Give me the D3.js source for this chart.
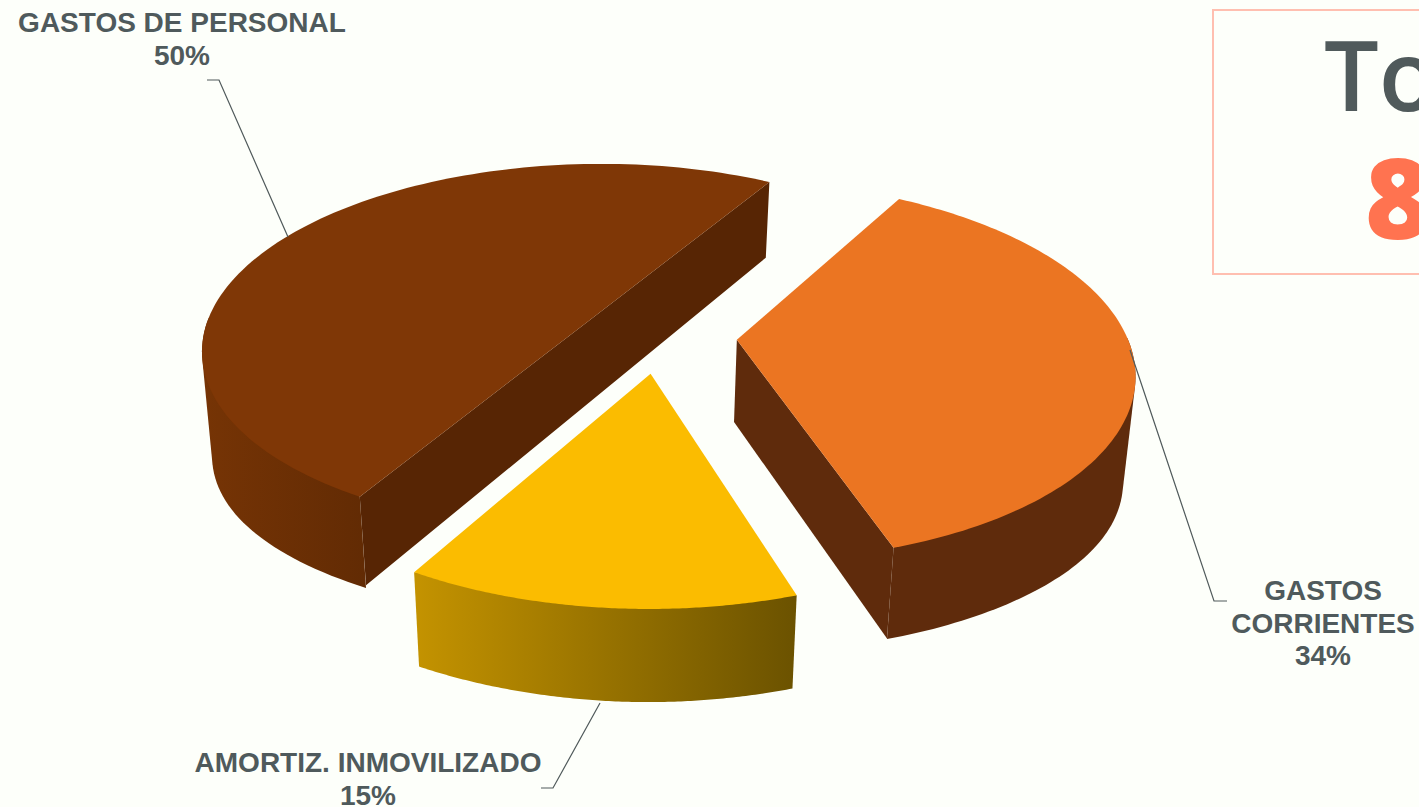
<!DOCTYPE html>
<html>
<head>
<meta charset="utf-8">
<script src="https://cdn.jsdelivr.net/npm/d3@7"></script>
<style>
  html, body { margin: 0; padding: 0; background: #fdfffa; overflow: hidden; }
  svg { display: block; }
</style>
</head>
<body>
<script>
let categories = ["GASTOS DE PERSONAL", "GASTOS CORRIENTES", "AMORTIZ. INMOVILIZADO"];
let values = [50, 34, 15];
let topColors = ["#7f3706", "#eb7522", "#fbbc00"];
let cutColors = ["#572504", "#5f2b0c", "#6b5200"];
let wallLeft = ["#763405", "#5f2b0c", "#c49300"];
let wallRight = ["#622b04", "#5f2b0c", "#6b5200"];
let percentLabels = ["50%", "34%", "15%"];

let w = 1419;
let h = 807;
let textColor = "#4f5a5c";

// fake 3d: unit disc in the plane, pushed through a small perspective
let cx = 659, cy = 336;
let rx = 390, ry = 184;
let persp = 0.16;
let explode = 0.2;
let depthBase = 35;
let depthPersp = 47;
let depthSide = 22; // bottom rim bulges a bit more at the sides
let vanishX = 620;
let bottomScale = 0.976;

let project = function(p) {
  let s = 1 / (1 - persp * p[1]);
  return [cx + rx * p[0] * s, cy + ry * p[1] * s];
};
let projectBottom = function(p, side) {
  let s = 1 / (1 - persp * p[1]);
  let t = project(p);
  let bulge = side === undefined ? 0 : depthSide * Math.pow(Math.abs(side), 3);
  return [vanishX + (t[0] - vanishX) * bottomScale, t[1] + depthBase + depthPersp * s + bulge];
};

let svg = d3.select("body").append("svg")
  .attr("width", w)
  .attr("height", h);

let defs = svg.append("defs");
let line = d3.line();

let rad = Math.PI / 180;
let pie = d3.pie()
  .sort(null)
  .startAngle(-150 * rad)
  .endAngle(210 * rad);
let arcs = pie(values);

// the tilted view squeezes the front slices, so pie angles go through this before drawing
let tilt = d3.scaleLinear()
  .domain([arcs[0].startAngle, arcs[1].startAngle, arcs[2].startAngle, arcs[2].endAngle])
  .range([-150 * rad, 30 * rad, 162 * rad, 210 * rad]);

arcs.forEach((a, i) => {
  let a0 = tilt(a.startAngle);
  let a1 = tilt(a.endAngle);
  let mid = (a0 + a1) / 2;
  let center = [explode * Math.sin(mid), -explode * Math.cos(mid)];
  let onRim = (t) => [center[0] + Math.sin(t), center[1] - Math.cos(t)];

  let angles = d3.range(0, 121).map((n) => a0 + (a1 - a0) * n / 120);
  let rim = angles.map(onRim);
  let last = rim[rim.length - 1];
  let g = svg.append("g").attr("class", "slice");

  // outer wall, only the part that faces the viewer. hull keeps the sides from
  // notching in, the top face gets painted over the inner part afterwards
  let frontAngles = angles.filter((t) => Math.cos(t) < 0.02);
  let wallPts = d3.polygonHull(frontAngles.map((t) => project(onRim(t)))
    .concat(frontAngles.map((t) => projectBottom(onRim(t), Math.sin(t)))));
  let xs = d3.extent(wallPts, (d) => d[0]);
  let gradId = "wall" + i;
  let grad = defs.append("linearGradient")
    .attr("id", gradId)
    .attr("gradientUnits", "userSpaceOnUse")
    .attr("x1", xs[0]).attr("x2", xs[1])
    .attr("y1", 0).attr("y2", 0);
  grad.append("stop").attr("offset", 0).attr("stop-color", wallLeft[i]);
  grad.append("stop").attr("offset", 1).attr("stop-color", wallRight[i]);
  g.append("path")
    .attr("d", line(wallPts) + "Z")
    .attr("fill", "url(#" + gradId + ")");

  // straight cut face that can be seen from the front
  if (i === 1) {
    g.append("path")
      .attr("d", line([center, last].map(project)
        .concat([projectBottom(last), projectBottom(center)])) + "Z")
      .attr("fill", cutColors[i]);
  }
  if (i === 0) {
    let pts = [rim[0], center, last];
    g.append("path")
      .attr("d", line(pts.map(project).concat(pts.slice().reverse().map((p) => projectBottom(p)))) + "Z")
      .attr("fill", cutColors[i]);
  }

  // top
  g.append("path")
    .attr("d", line([center].concat(rim).map(project)) + "Z")
    .attr("fill", topColors[i]);
});

// leader lines
let leaders = [
  [[207, 80], [219, 80], [288, 237]],
  [[1130, 350], [1214, 601], [1227, 601]],
  [[600, 703], [553, 788], [541, 788]]
];
svg.selectAll("path.leader")
  .data(leaders)
  .enter()
  .append("path")
  .attr("class", "leader")
  .attr("d", (d) => line(d))
  .attr("fill", "none")
  .attr("stroke", "#505a5b")
  .attr("stroke-width", 1.2);

// labels
let labelLines = [
  [categories[0], percentLabels[0]],
  ["GASTOS", "CORRIENTES", percentLabels[1]],
  [categories[2], percentLabels[2]]
];
let labelPos = [[182, 32], [1323, 600], [368, 772]];
labelLines.forEach((rows, i) => {
  svg.append("text")
    .attr("text-anchor", "middle")
    .attr("font-family", "'Liberation Sans', Arial, sans-serif")
    .attr("font-weight", "bold")
    .attr("font-size", "28px")
    .attr("fill", textColor)
    .selectAll("tspan")
    .data(rows)
    .enter()
    .append("tspan")
    .attr("x", labelPos[i][0])
    .attr("y", (d, n) => labelPos[i][1] + n * 32.5)
    .text((d) => d);
});

// total box, runs off the right edge
svg.append("rect")
  .attr("x", 1213)
  .attr("y", 10)
  .attr("width", 300)
  .attr("height", 264)
  .attr("fill", "none")
  .attr("stroke", "#ffbfb0")
  .attr("stroke-width", 2);

svg.append("text")
  .attr("x", 1324)
  .attr("y", 111)
  .attr("font-family", "'Open Sans', sans-serif")
  .attr("font-weight", 600)
  .attr("font-size", "97px")
  .attr("fill", "#505a5b")
  .text("To");

svg.append("text")
  .attr("x", 1365)
  .attr("y", 239)
  .attr("font-family", "'Open Sans', sans-serif")
  .attr("font-weight", 800)
  .attr("font-size", "112px")
  .attr("fill", "#ff7350")
  .text("8");
</script>
</body>
</html>
